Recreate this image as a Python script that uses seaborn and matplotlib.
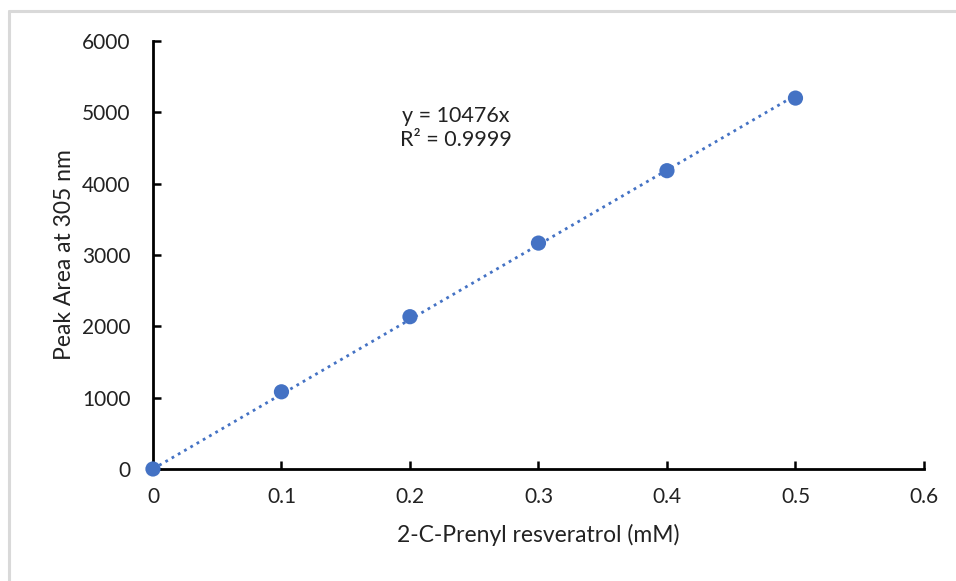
import matplotlib
matplotlib.use("Agg")
import matplotlib.pyplot as plt
import seaborn as sns
import numpy as np
import pandas as pd
from matplotlib.lines import Line2D

conc = [0, 0.1, 0.2, 0.3, 0.4, 0.5]
area = [0, 1082, 2135, 3167, 4182, 5200]
slope = 10476
r2_text = "R² = 0.9999"

df = pd.DataFrame({"conc": conc, "area": area})

sns.set_style("white")
plt.rcParams["font.family"] = ["Lato", "DejaVu Sans"]

fig = plt.figure(figsize=(9.56, 5.81), dpi=100)
ax = fig.add_axes([0.16, 0.1928, 0.8065, 0.7366])

fit_x = np.array([0, max(conc)])
ax.plot(fit_x, slope * fit_x, linestyle=(0, (1, 1.6)), color="#4472C4", lw=2, zorder=2)
sns.scatterplot(data=df, x="conc", y="area", ax=ax, color="#4472C4", s=120,
                edgecolor="none", zorder=4, clip_on=False)

ax.set_xlim(0, 0.6)
ax.set_ylim(0, 6000)
ax.set_xticks([0, 0.1, 0.2, 0.3, 0.4, 0.5, 0.6])
ax.set_xticklabels(["0", "0.1", "0.2", "0.3", "0.4", "0.5", "0.6"])
ax.set_yticks(range(0, 6001, 1000))
ax.tick_params(axis="both", direction="in", length=6, width=1.8, colors="black",
               labelsize=15, labelcolor="#222222", bottom=True, left=True)
ax.tick_params(axis="x", pad=13)
ax.tick_params(axis="y", pad=16)
for side in ["top", "right"]:
    ax.spines[side].set_visible(False)
for side in ["left", "bottom"]:
    ax.spines[side].set_linewidth(2)
    ax.spines[side].set_color("black")
    ax.spines[side].set_zorder(3)

ax.set_xlabel("2-C-Prenyl resveratrol (mM)", fontsize=16.5, color="#222222", labelpad=12)
ax.set_ylabel("Peak Area at 305 nm", fontsize=16.5, color="#222222", labelpad=5)

ax.text(0.393, 0.797, f"y = {slope}x\n{r2_text}", transform=ax.transAxes,
        ha="center", va="center", fontsize=15.5, color="#222222", linespacing=1.25)

# light frame, only top and left edges fall inside the image
fig.add_artist(Line2D([8.5 / 956, 8.5 / 956], [0, 1 - 10.5 / 581],
                      transform=fig.transFigure, color="#d9d9d9", lw=2.2))
fig.add_artist(Line2D([8.5 / 956, 1], [1 - 10.5 / 581, 1 - 10.5 / 581],
                      transform=fig.transFigure, color="#d9d9d9", lw=2.2))

fig.savefig("out.png", dpi=100)
